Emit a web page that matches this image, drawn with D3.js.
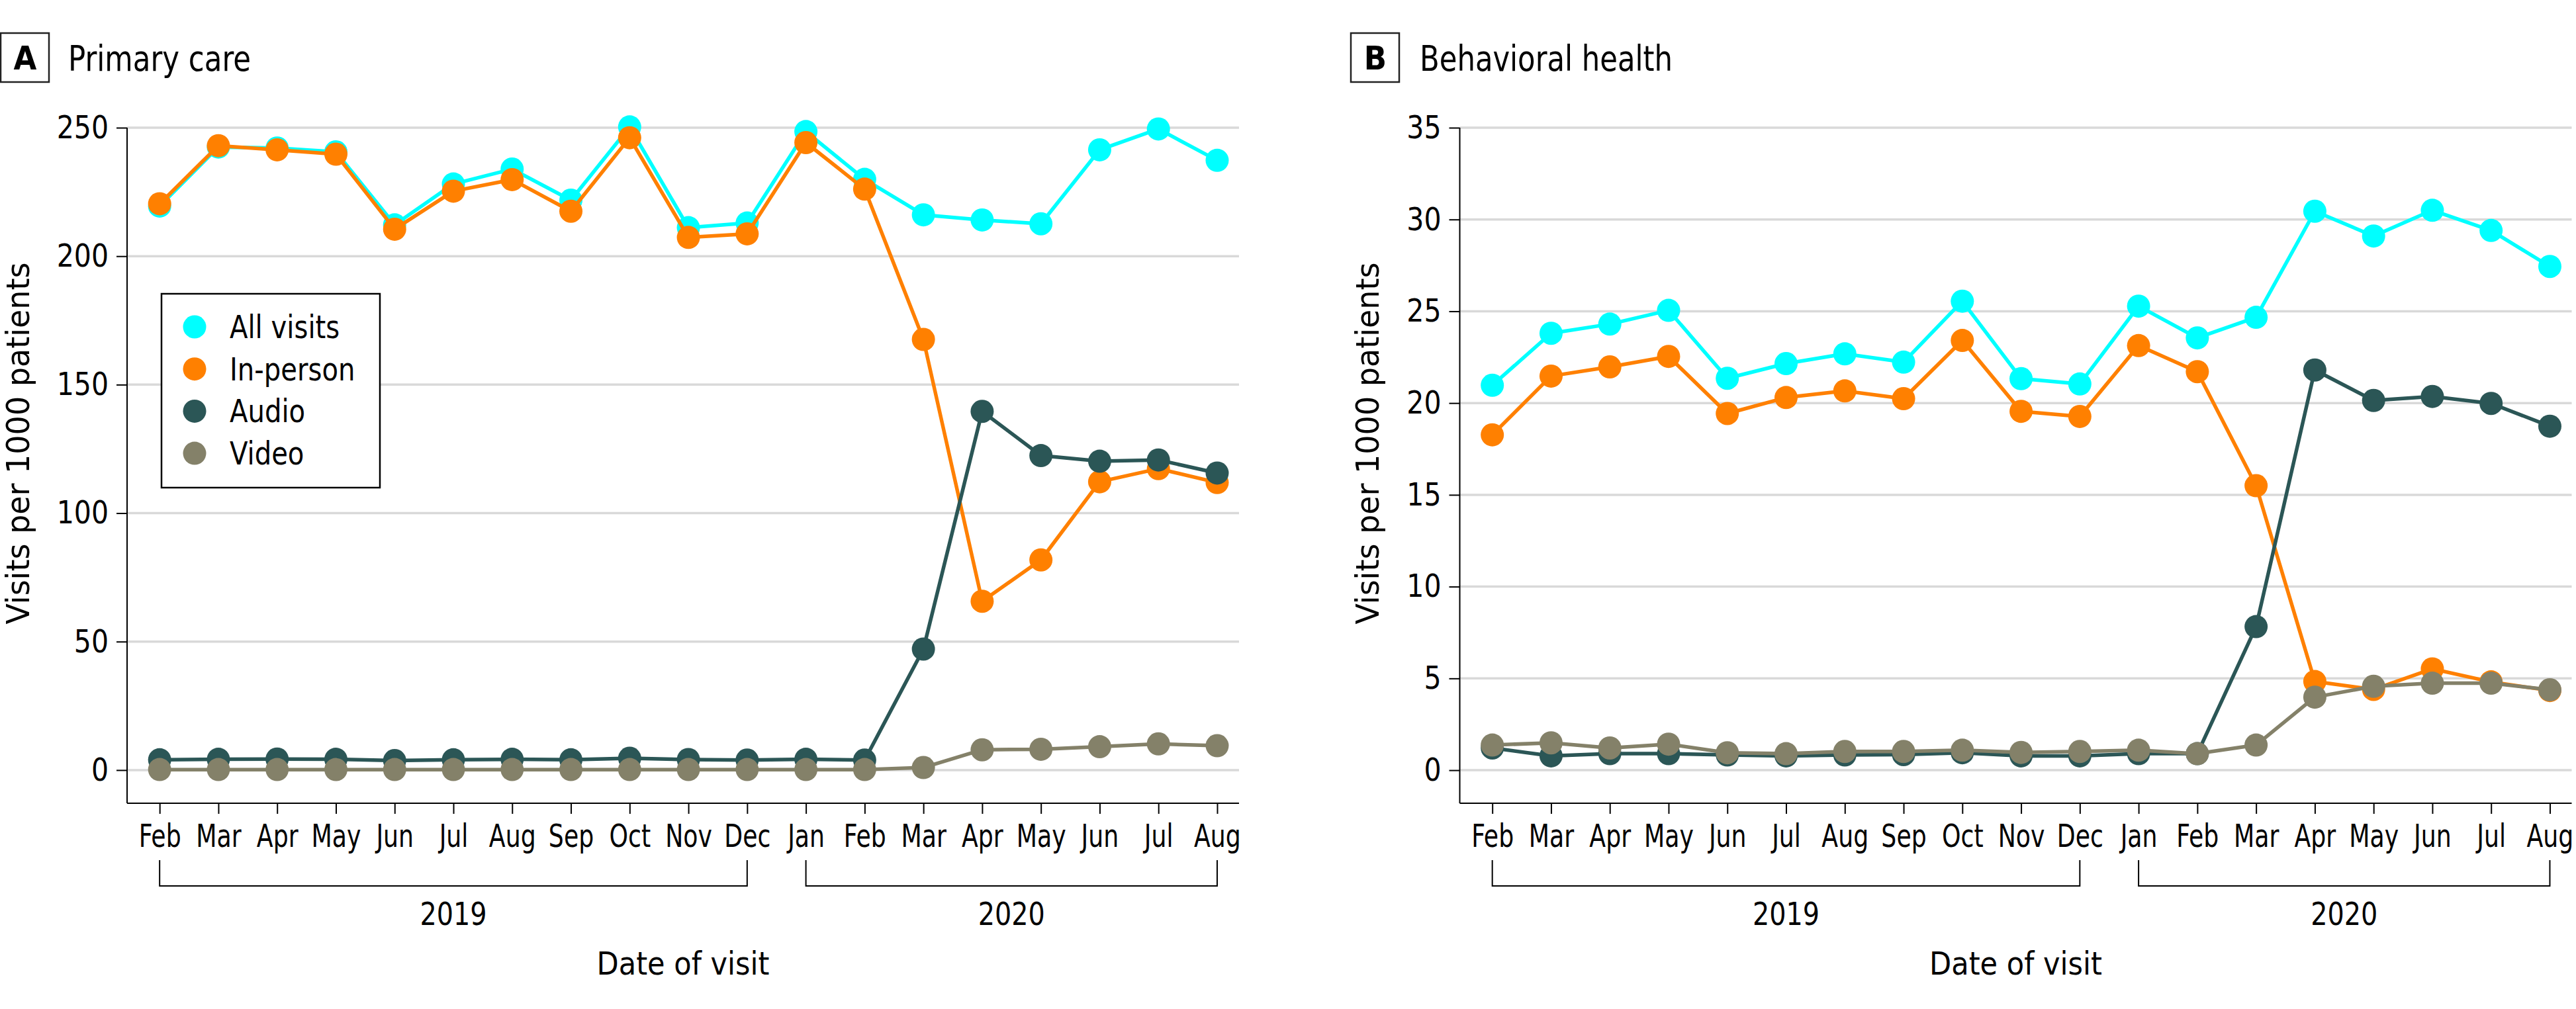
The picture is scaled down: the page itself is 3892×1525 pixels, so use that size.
<!DOCTYPE html>
<html>
<head>
<meta charset="utf-8">
<script src="https://cdn.jsdelivr.net/npm/d3@7"></script>
<style>
  html, body { margin: 0; padding: 0; background: #fff; }
  svg { display: block; }
</style>
</head>
<body>
<div id="chart"></div>
<script>
// ---------- data ----------
const months = ["Feb","Mar","Apr","May","Jun","Jul","Aug","Sep","Oct","Nov","Dec","Jan","Feb","Mar","Apr","May","Jun","Jul","Aug"];
const years = [
  { label: "2019", from: 0, to: 10 },
  { label: "2020", from: 11, to: 18 }
];
const seriesNames = ["All visits", "In-person", "Audio", "Video"];
const seriesColors = ["#00FFFF", "#FF8000", "#2B5656", "#848169"];

// Panel A: Primary care
const primaryAll      = [219.5, 242.5, 242.1, 240.6, 212.2, 228.1, 233.9, 221.8, 250.3, 211.1, 212.9, 248.5, 229.9, 216.1, 214.1, 212.6, 241.4, 249.5, 237.3];
const primaryInPerson = [220.4, 243.0, 241.4, 239.7, 210.5, 225.3, 229.8, 217.5, 246.1, 207.3, 208.7, 244.2, 226.1, 167.6, 65.7, 81.8, 112.2, 117.3, 111.9];
const primaryAudio    = [4.0, 4.2, 4.3, 4.2, 3.7, 4.0, 4.2, 4.0, 4.6, 4.1, 3.9, 4.2, 3.9, 47.1, 139.6, 122.4, 120.2, 120.7, 115.6];
const primaryVideo    = [0.2, 0.2, 0.2, 0.2, 0.2, 0.2, 0.2, 0.2, 0.2, 0.2, 0.2, 0.2, 0.2, 1.0, 7.9, 8.1, 9.1, 10.2, 9.5];
const primaryTicks    = [0, 50, 100, 150, 200, 250];

// Panel B: Behavioral health
const behavAll      = [20.97, 23.8, 24.3, 25.05, 21.35, 22.15, 22.68, 22.23, 25.55, 21.33, 21.04, 25.28, 23.55, 24.67, 30.45, 29.1, 30.5, 29.4, 27.44];
const behavInPerson = [18.27, 21.47, 21.97, 22.54, 19.43, 20.3, 20.66, 20.24, 23.41, 19.55, 19.27, 23.13, 21.71, 15.5, 4.83, 4.4, 5.52, 4.81, 4.34];
const behavAudio    = [1.21, 0.78, 0.9, 0.9, 0.83, 0.78, 0.83, 0.85, 0.95, 0.78, 0.78, 0.9, 0.9, 7.82, 21.8, 20.14, 20.36, 19.98, 18.74];
const behavVideo    = [1.37, 1.49, 1.21, 1.42, 0.95, 0.9, 1.02, 1.02, 1.09, 0.97, 1.02, 1.09, 0.9, 1.37, 3.98, 4.57, 4.74, 4.74, 4.38];
const behavTicks    = [0, 5, 10, 15, 20, 25, 30, 35];

// ---------- layout ----------
const W = 3892, H = 1525;
const FONT = "'Liberation Sans Narrow', 'DejaVu Sans Condensed', 'Arial Narrow', sans-serif";
const FS = 48;

const svg = d3.select("#chart").append("svg")
  .attr("width", W).attr("height", H)
  .attr("viewBox", `0 0 ${W} ${H}`)
  .style("font-family", FONT);
svg.append("rect").attr("width", W).attr("height", H).attr("fill", "#fff");

const panels = [
  { letter: "A", title: "Primary care", titleLen: 276, ox: 0, boxX: 1, titleX: 103, ytitleX: 44,
    yDomain: [-12.9, 250], ticks: primaryTicks,
    series: [primaryAll, primaryInPerson, primaryAudio, primaryVideo], legend: true },
  { letter: "B", title: "Behavioral health", titleLen: 382, ox: 2013.5, boxX: 2041, titleX: 2145, ytitleX: 2083,
    yDomain: [-1.8, 35], ticks: behavTicks,
    series: [behavAll, behavInPerson, behavAudio, behavVideo], legend: false }
];

const plotLeft = 192, plotRight = 1872, plotTop = 193, plotBottom = 1214;
const idxDomain = [-0.554, 18.372];

function squeeze(sel, k) {
  sel.each(function () {
    const len = this.getComputedTextLength();
    d3.select(this).attr("textLength", len * k).attr("lengthAdjust", "spacingAndGlyphs");
  });
}

panels.forEach(p => {
  const g = svg.append("g");
  const x = d3.scaleLinear().domain(idxDomain).range([plotLeft + p.ox, plotRight + p.ox]);
  const y = d3.scaleLinear().domain(p.yDomain).range([plotBottom, plotTop]);

  // title box + letter
  g.append("rect").attr("x", p.boxX).attr("y", 50).attr("width", 73).attr("height", 74)
    .attr("fill", "none").attr("stroke", "#222").attr("stroke-width", 2.5);
  g.append("text").attr("x", p.boxX + 37).attr("y", 105).attr("text-anchor", "middle")
    .attr("font-size", 50).attr("font-weight", "bold").attr("fill", "#000").text(p.letter);
  g.append("text").attr("x", p.titleX).attr("y", 107)
    .attr("font-size", 54).attr("fill", "#000")
    .attr("textLength", p.titleLen).attr("lengthAdjust", "spacingAndGlyphs").text(p.title);

  // gridlines
  g.append("g").selectAll("line").data(p.ticks).join("line")
    .attr("x1", plotLeft + p.ox).attr("x2", plotRight + p.ox)
    .attr("y1", d => y(d)).attr("y2", d => y(d))
    .attr("stroke", "#d9d9d9").attr("stroke-width", 3.5);

  // y axis
  const yAxis = d3.axisLeft(y).tickValues(p.ticks).tickSize(16).tickPadding(12).tickSizeOuter(0);
  const ya = g.append("g").attr("transform", `translate(${plotLeft + p.ox},0)`).call(yAxis);
  ya.select(".domain").remove();
  ya.selectAll(".tick line").attr("stroke", "#000").attr("stroke-width", 2);
  ya.selectAll(".tick text").attr("font-size", FS).attr("font-family", FONT).attr("fill", "#000");
  squeeze(ya.selectAll(".tick text"), 0.95);
  g.append("line").attr("x1", plotLeft + p.ox).attr("x2", plotLeft + p.ox)
    .attr("y1", plotTop).attr("y2", plotBottom).attr("stroke", "#000").attr("stroke-width", 2);

  // x axis
  const xAxis = d3.axisBottom(x).tickValues(d3.range(months.length))
    .tickFormat(i => months[i]).tickSize(16).tickPadding(16).tickSizeOuter(0);
  const xa = g.append("g").attr("transform", `translate(0,${plotBottom})`).call(xAxis);
  xa.select(".domain").remove();
  xa.selectAll(".tick line").attr("stroke", "#000").attr("stroke-width", 2);
  xa.selectAll(".tick text").attr("font-size", FS).attr("font-family", FONT).attr("fill", "#000")
    .attr("transform", "scale(0.84,1)");
  g.append("line").attr("x1", plotLeft + p.ox).attr("x2", plotRight + p.ox)
    .attr("y1", plotBottom).attr("y2", plotBottom).attr("stroke", "#000").attr("stroke-width", 2);

  // year brackets
  years.forEach(yr => {
    const x1 = x(yr.from), x2 = x(yr.to);
    g.append("path")
      .attr("d", `M${x1},1300 V1339 H${x2} V1300`)
      .attr("fill", "none").attr("stroke", "#000").attr("stroke-width", 2);
    const t = g.append("text").attr("x", (x1 + x2) / 2).attr("y", 1398).attr("text-anchor", "middle")
      .attr("font-size", FS).attr("fill", "#000").text(yr.label);
    squeeze(t, 0.92);
  });

  // x title
  g.append("text").attr("x", (plotLeft + plotRight) / 2 + p.ox).attr("y", 1473)
    .attr("text-anchor", "middle").attr("font-size", FS).attr("fill", "#000")
    .attr("textLength", 261).attr("lengthAdjust", "spacingAndGlyphs").text("Date of visit");

  // y title
  g.append("text").attr("transform", `translate(${p.ytitleX},670) rotate(-90)`)
    .attr("text-anchor", "middle").attr("font-size", FS).attr("fill", "#000")
    .attr("textLength", 547).attr("lengthAdjust", "spacingAndGlyphs")
    .text("Visits per 1000 patients");

  // series
  const line = d3.line().x((d, i) => x(i)).y(d => y(d));
  p.series.forEach((vals, si) => {
    const sg = g.append("g");
    sg.append("path").attr("d", line(vals)).attr("fill", "none")
      .attr("stroke", seriesColors[si]).attr("stroke-width", 5.5).attr("stroke-linejoin", "round");
    sg.selectAll("circle").data(vals).join("circle")
      .attr("cx", (d, i) => x(i)).attr("cy", d => y(d)).attr("r", 17.5)
      .attr("fill", seriesColors[si]);
  });

  // legend
  if (p.legend) {
    const lg = g.append("g");
    lg.append("rect").attr("x", 244).attr("y", 444).attr("width", 330).attr("height", 293)
      .attr("fill", "#fff").attr("stroke", "#000").attr("stroke-width", 2.5);
    seriesNames.forEach((name, i) => {
      const cy = 494 + i * 63.7;
      lg.append("circle").attr("cx", 294).attr("cy", cy).attr("r", 17.5).attr("fill", seriesColors[i]);
      const t = lg.append("text").attr("x", 347).attr("y", cy).attr("dy", "0.35em")
        .attr("font-size", FS).attr("fill", "#000").text(name);
      squeeze(t, 0.93);
    });
  }
});
</script>
</body>
</html>
